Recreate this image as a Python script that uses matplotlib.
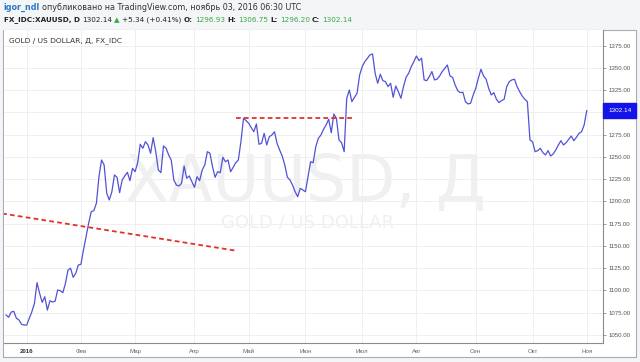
import numpy as np
import matplotlib.pyplot as plt
from matplotlib.patches import Rectangle
from matplotlib.transforms import blended_transform_factory

# ==============================
# DATA
# ==============================
# trading sessions counted from 2016-01-01 (session 0), first bar is session -8
first_session = -8
close = [
    1072.5, 1069.9, 1075.8, 1076.6, 1068.8, 1066.9, 1062.0, 1061.2, 1061.2, 1068.8,
    1076.2, 1085.6, 1108.8, 1096.8, 1086.7, 1093.0, 1078.0, 1088.5, 1087.0, 1087.9,
    1100.6, 1099.8, 1097.5, 1108.0, 1123.0, 1125.0, 1114.8, 1119.3, 1128.6, 1129.4,
    1145.5, 1160.5, 1175.5, 1188.5, 1189.7, 1198.0, 1227.9, 1246.6, 1241.0, 1209.2,
    1201.7, 1211.0, 1229.8, 1227.2, 1209.9, 1224.2, 1228.7, 1232.8, 1223.4, 1237.3,
    1233.5, 1243.6, 1264.3, 1259.8, 1267.2, 1263.5, 1254.2, 1271.7, 1256.0, 1235.4,
    1232.4, 1262.4, 1259.8, 1252.3, 1246.6, 1224.2, 1218.5, 1217.4, 1220.4, 1239.9,
    1226.1, 1228.7, 1222.2, 1216.0, 1227.9, 1223.4, 1235.4, 1241.0, 1256.0, 1254.2,
    1239.1, 1227.2, 1233.5, 1232.4, 1249.7, 1244.7, 1246.6, 1233.5, 1238.4, 1243.6,
    1246.6, 1267.2, 1293.5, 1290.8, 1287.9, 1283.0, 1278.4, 1287.1, 1264.3, 1265.4,
    1276.6, 1263.5, 1272.8, 1274.7, 1278.4, 1265.4, 1257.9, 1251.1, 1241.0, 1227.2,
    1224.2, 1218.5, 1211.0, 1205.4, 1214.8, 1212.9, 1211.0, 1227.9, 1244.7, 1243.6,
    1261.5, 1271.0, 1274.7, 1281.1, 1286.0, 1292.4, 1277.3, 1298.3, 1293.5, 1269.1,
    1266.1, 1256.0, 1316.0, 1325.3, 1312.2, 1317.1, 1321.6, 1342.2, 1351.5, 1357.1,
    1361.0, 1364.7, 1365.8, 1344.1, 1332.8, 1343.0, 1335.8, 1334.7, 1329.1, 1332.8,
    1317.1, 1329.8, 1323.4, 1316.0, 1329.1, 1339.6, 1344.1, 1351.5, 1357.1, 1363.5,
    1358.3, 1361.0, 1336.6, 1335.8, 1340.3, 1346.0, 1336.6, 1337.4, 1341.1, 1346.0,
    1349.8, 1353.4, 1341.1, 1339.6, 1331.0, 1324.6, 1322.3, 1322.8, 1312.2, 1309.6,
    1310.4, 1319.7, 1327.2, 1338.5, 1348.6, 1341.1, 1337.4, 1327.2, 1319.7, 1322.3,
    1314.9, 1311.1, 1313.4, 1314.9, 1329.0, 1334.7, 1336.6, 1337.4, 1329.1, 1323.5,
    1318.5, 1314.9, 1312.2, 1269.1, 1267.2, 1256.0, 1257.1, 1259.8, 1254.9, 1252.3,
    1257.1, 1251.1, 1253.4, 1257.9, 1263.5, 1268.3, 1263.5, 1266.1, 1269.9, 1273.6,
    1268.3, 1272.1, 1276.6, 1278.4, 1286.0, 1302.14,
]
session = np.arange(first_session, first_session + len(close))

month_starts = ["2016-01-01", "2016-02-01", "2016-03-01", "2016-04-01", "2016-05-01", "2016-06-01",
                "2016-07-01", "2016-08-01", "2016-09-01", "2016-10-01", "2016-11-01"]
month_labels = ["2016", "Фев", "Мар", "Апр", "Май", "Июн", "Июл", "Авг", "Сен", "Окт", "Ноя"]

price_ticks = np.arange(1050, 1376, 25)
last_price = 1302.14

# drawn trend lines (session, price)
trend_down_x = [-9.5, 80.7]
trend_down_y = [1186.5, 1144.9]
resist_x = [81.1, 126.8]
resist_y = [1293.4, 1293.4]

# header
header_line1 = [("igor_ndl", "#2b78c8", "bold"),
                ("опубликовано на TradingView.com, ноябрь 03, 2016 06:30 UTC", "#333333", "normal")]
header_line2 = [("FX_IDC:XAUUSD, D", "#222222", "bold"), ("1302.14", "#222222", "normal"),
                ("▲", "#3aa845", "normal"), ("+5.34 (+0.41%)", "#222222", "normal"),
                ("O:", "#222222", "bold"), ("1296.93", "#3aa845", "normal"),
                ("H:", "#222222", "bold"), ("1306.75", "#3aa845", "normal"),
                ("L:", "#222222", "bold"), ("1296.20", "#3aa845", "normal"),
                ("C:", "#222222", "bold"), ("1302.14", "#3aa845", "normal")]

# ==============================
# FIGURE
# ==============================
W, H = 640, 362
fig = plt.figure(figsize=(6.4, 3.62), dpi=100, facecolor="#f3f5f7")

# white chart panel (behind the axes)
fig.patches.append(Rectangle((3 / W, 1 - 357 / H), 633 / W, 327 / H, transform=fig.transFigure,
                             facecolor="white", edgecolor="#a9acb2", lw=0.8, zorder=-5))

ax = fig.add_axes([4 / W, 1 - 343 / H, 599 / W, 313 / H])
ax.set_zorder(2)
ax.set_facecolor("white")

ax.plot(session, close, color="#5252d6", lw=0.9, zorder=4)
ax.plot(trend_down_x, trend_down_y, color="#e0322b", lw=1.3, dashes=(2.6, 1.8), zorder=5)
ax.plot(resist_x, resist_y, color="#e0322b", lw=1.3, dashes=(2.6, 1.8), zorder=5)

ax.set_xlim(-8.8, 223.3)
ax.set_ylim(1041.0, 1392.7)

# x axis: one gridline per month start (business-day positions)
month_pos = [np.busday_count("2016-01-01", d) for d in month_starts]
ax.set_xticks(month_pos)
ax.set_xticklabels(month_labels, family="Liberation Sans")
ax.tick_params(axis="x", length=0, pad=4, labelsize=4.4, labelcolor="#666666")
ax.get_xticklabels()[0].set_fontweight("bold")
ax.get_xticklabels()[0].set_color("#333333")

# price scale; the 1300 label sits under the last-price tag
ax.yaxis.tick_right()
ax.set_yticks(price_ticks)
ax.set_yticklabels(["" if abs(v - last_price) < 12.5 else f"{v:.2f}" for v in price_ticks],
                   family="Liberation Sans")
ax.tick_params(axis="y", length=2.5, width=0.6, color="#8c8c8c", pad=1.5,
               labelsize=4.4, labelcolor="#555555")

ax.grid(color="#ededed", lw=0.6)
ax.set_axisbelow(True)
for side in ["left", "top"]:
    ax.spines[side].set_visible(False)
for side in ["right", "bottom"]:
    ax.spines[side].set_color("#8c8c8c")
    ax.spines[side].set_linewidth(0.8)

# watermark + legend
ax.text(0.503, 0.512, "XAUUSD, Д", transform=ax.transAxes, ha="center", va="center",
        fontsize=46, color="#f0f0f0", zorder=1)
ax.text(0.507, 0.385, "GOLD / US DOLLAR", transform=ax.transAxes, ha="center", va="center",
        fontsize=13, color="#f0f0f0", zorder=1)
ax.text(5 / 599, 1 - 11 / 313, "GOLD / US DOLLAR, Д, FX_IDC", transform=ax.transAxes,
        ha="left", va="center", fontsize=5.4, color="#333333", zorder=6)

# last price label on the price scale
trans = blended_transform_factory(ax.transAxes, ax.transData)
ax.text(1 + 5 / 599, last_price, f"{last_price:.2f}", transform=trans, ha="left", va="center",
        fontsize=4.6, color="white", family="Liberation Sans", clip_on=False, zorder=10,
        bbox=dict(boxstyle="square,pad=0.75", facecolor="#1414e8", edgecolor="#1414e8"))

# header rows, pieces placed one after the other
renderer = fig.canvas.get_renderer()


def put_row(pieces, x0, y, size, gap):
    x = x0
    for s, color, weight in pieces:
        t = fig.text(x / W, 1 - y / H, s, color=color, fontweight=weight, fontsize=size,
                     ha="left", va="center")
        x += t.get_window_extent(renderer).width + gap


put_row(header_line1, 3, 7, 5.8, 2.5)
put_row(header_line2, 4, 20, 5.2, 2.2)

plt.savefig("out.png", dpi=100, facecolor=fig.get_facecolor())
